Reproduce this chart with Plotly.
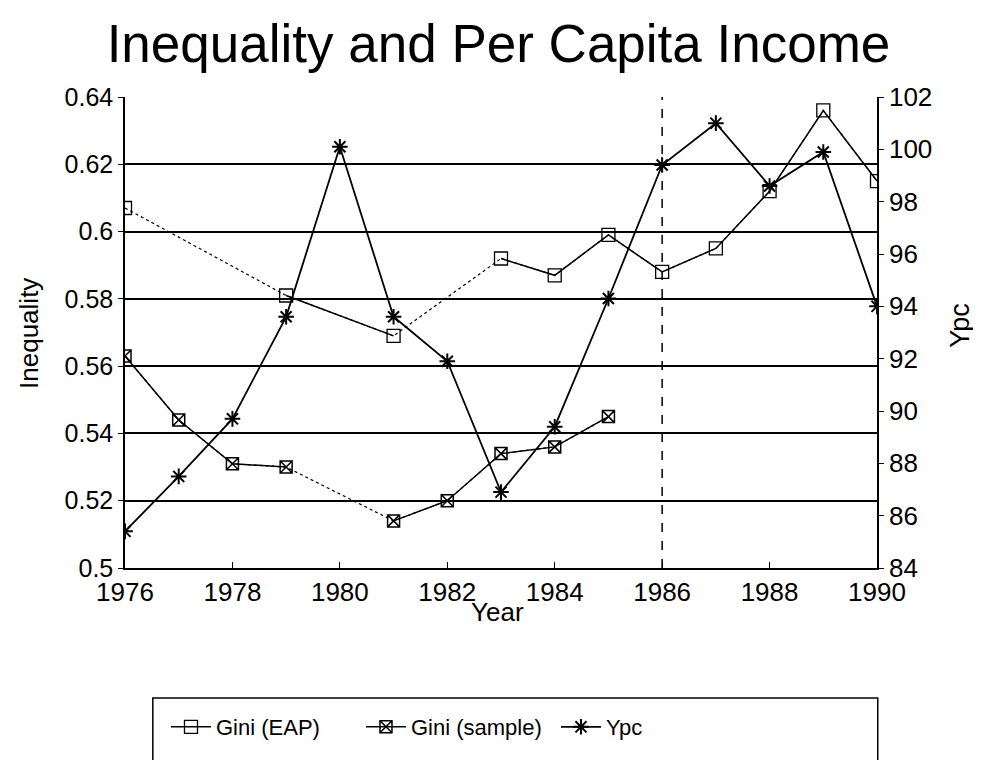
import plotly.graph_objects as go

# ---- data ----
years_eap = [1976, 1979, 1981, 1983, 1984, 1985, 1986, 1987, 1988, 1989, 1990]
gini_eap = [0.607, 0.581, 0.569, 0.592, 0.587, 0.599, 0.588, 0.595, 0.612, 0.636, 0.615]
eap_dotted_after = [1976, 1981]

years_sample = [1976, 1977, 1978, 1979, 1981, 1982, 1983, 1984, 1985]
gini_sample = [0.563, 0.544, 0.531, 0.530, 0.514, 0.520, 0.534, 0.536, 0.545]
sample_dotted_after = [1979]

years_ypc = list(range(1976, 1991))
ypc = [85.4, 87.5, 89.7, 93.6, 100.1, 93.6, 91.9, 86.9, 89.4, 94.3, 99.4, 101.0, 98.6, 99.9, 94.0]

x_ticks = [1976, 1978, 1980, 1982, 1984, 1986, 1988, 1990]
y_ticks = [0.5, 0.52, 0.54, 0.56, 0.58, 0.6, 0.62, 0.64]
y_ticklabels = ["0.5", "0.52", "0.54", "0.56", "0.58", "0.6", "0.62", "0.64"]
y2_ticks = list(range(84, 103, 2))
break_year = 1986

FONT = "Liberation Sans, Arial, sans-serif"


def split_solid(xs, ys, dotted_after):
    sx, sy = [], []
    for i, (a, b) in enumerate(zip(xs, ys)):
        sx.append(a)
        sy.append(b)
        if a in dotted_after and i < len(xs) - 1:
            sx.append(None)
            sy.append(None)
    return sx, sy


fig = go.Figure()

# dotted connectors beneath
fig.add_trace(go.Scatter(x=years_eap, y=gini_eap, mode="lines",
                         line=dict(color="black", width=1.2, dash="dot"),
                         showlegend=False, hoverinfo="skip"))
fig.add_trace(go.Scatter(x=years_sample, y=gini_sample, mode="lines",
                         line=dict(color="black", width=1.2, dash="dot"),
                         showlegend=False, hoverinfo="skip"))

ex, ey = split_solid(years_eap, gini_eap, eap_dotted_after)
fig.add_trace(go.Scatter(x=ex, y=ey, mode="lines+markers", name="Gini (EAP)",
                         line=dict(color="black", width=1.5),
                         marker=dict(symbol="square-open", size=13, color="black",
                                     line=dict(width=1.3, color="black"))))
sx, sy = split_solid(years_sample, gini_sample, sample_dotted_after)
fig.add_trace(go.Scatter(x=sx, y=sy, mode="lines+markers", name="Gini (sample)",
                         line=dict(color="black", width=1.5),
                         marker=dict(symbol="square-x-open", size=12, color="black",
                                     line=dict(width=1.5, color="black"))))
fig.add_trace(go.Scatter(x=years_ypc, y=ypc, mode="lines+markers", name="Ypc",
                         yaxis="y2",
                         line=dict(color="black", width=1.8),
                         marker=dict(symbol="asterisk-open", size=13, color="black",
                                     line=dict(width=2, color="black"))))

fig.add_shape(type="line", xref="x", yref="paper", x0=break_year, x1=break_year,
              y0=0, y1=1, line=dict(color="black", width=1.5, dash="dash"))

# legend box
fig.add_shape(type="rect", xref="paper", yref="paper", x0=0.037, x1=1.001,
              y0=-0.46, y1=-0.276, line=dict(color="black", width=1.5))

fig.update_layout(
    width=981, height=760,
    margin=dict(l=117, r=112, t=89, b=200),
    paper_bgcolor="white", plot_bgcolor="white",
    font=dict(family=FONT, color="black", size=26),
    title=dict(text="Inequality and Per Capita Income", x=0.5, xanchor="center",
               y=0.954, yref="container", yanchor="middle",
               font=dict(size=53, family=FONT, color="black")),
    xaxis=dict(range=[1976, 1990], tickvals=x_ticks, ticks="inside", ticklen=6,
               tickcolor="black", showline=True, linecolor="black", linewidth=1.5,
               mirror=False, showgrid=False, zeroline=False,
               tickfont=dict(size=26)),
    yaxis=dict(range=[0.5, 0.64], tickvals=y_ticks, ticktext=y_ticklabels,
               ticks="outside", ticklen=5, tickcolor="black",
               showline=True, linecolor="black", linewidth=1.5,
               showgrid=True, gridcolor="black", gridwidth=1.5, zeroline=False,
               tickfont=dict(size=25)),
    yaxis2=dict(range=[84, 102], tickvals=y2_ticks, overlaying="y", side="right",
                ticks="outside", ticklen=5, tickcolor="black",
                showline=True, linecolor="black", linewidth=1.5,
                showgrid=False, zeroline=False, tickfont=dict(size=26)),
    legend=dict(orientation="h", x=0.0545, xanchor="left", y=-0.3376, yanchor="middle",
                bgcolor="rgba(0,0,0,0)", borderwidth=0, entrywidth=140,
                font=dict(size=22), itemwidth=40),
    showlegend=True,
    annotations=[
        dict(text="Inequality", xref="paper", yref="paper", x=-0.1277, y=0.499,
             xanchor="center", yanchor="middle",
             textangle=-90, showarrow=False, font=dict(size=26)),
        dict(text="Ypc", xref="paper", yref="paper", x=1.11, y=0.516,
             xanchor="center", yanchor="middle",
             textangle=-90, showarrow=False, font=dict(size=27)),
        dict(text="Year", xref="paper", yref="paper", x=0.495, y=-0.0934,
             xanchor="center", yanchor="middle",
             showarrow=False, font=dict(size=26)),
    ],
)

fig.write_html("out.html")
